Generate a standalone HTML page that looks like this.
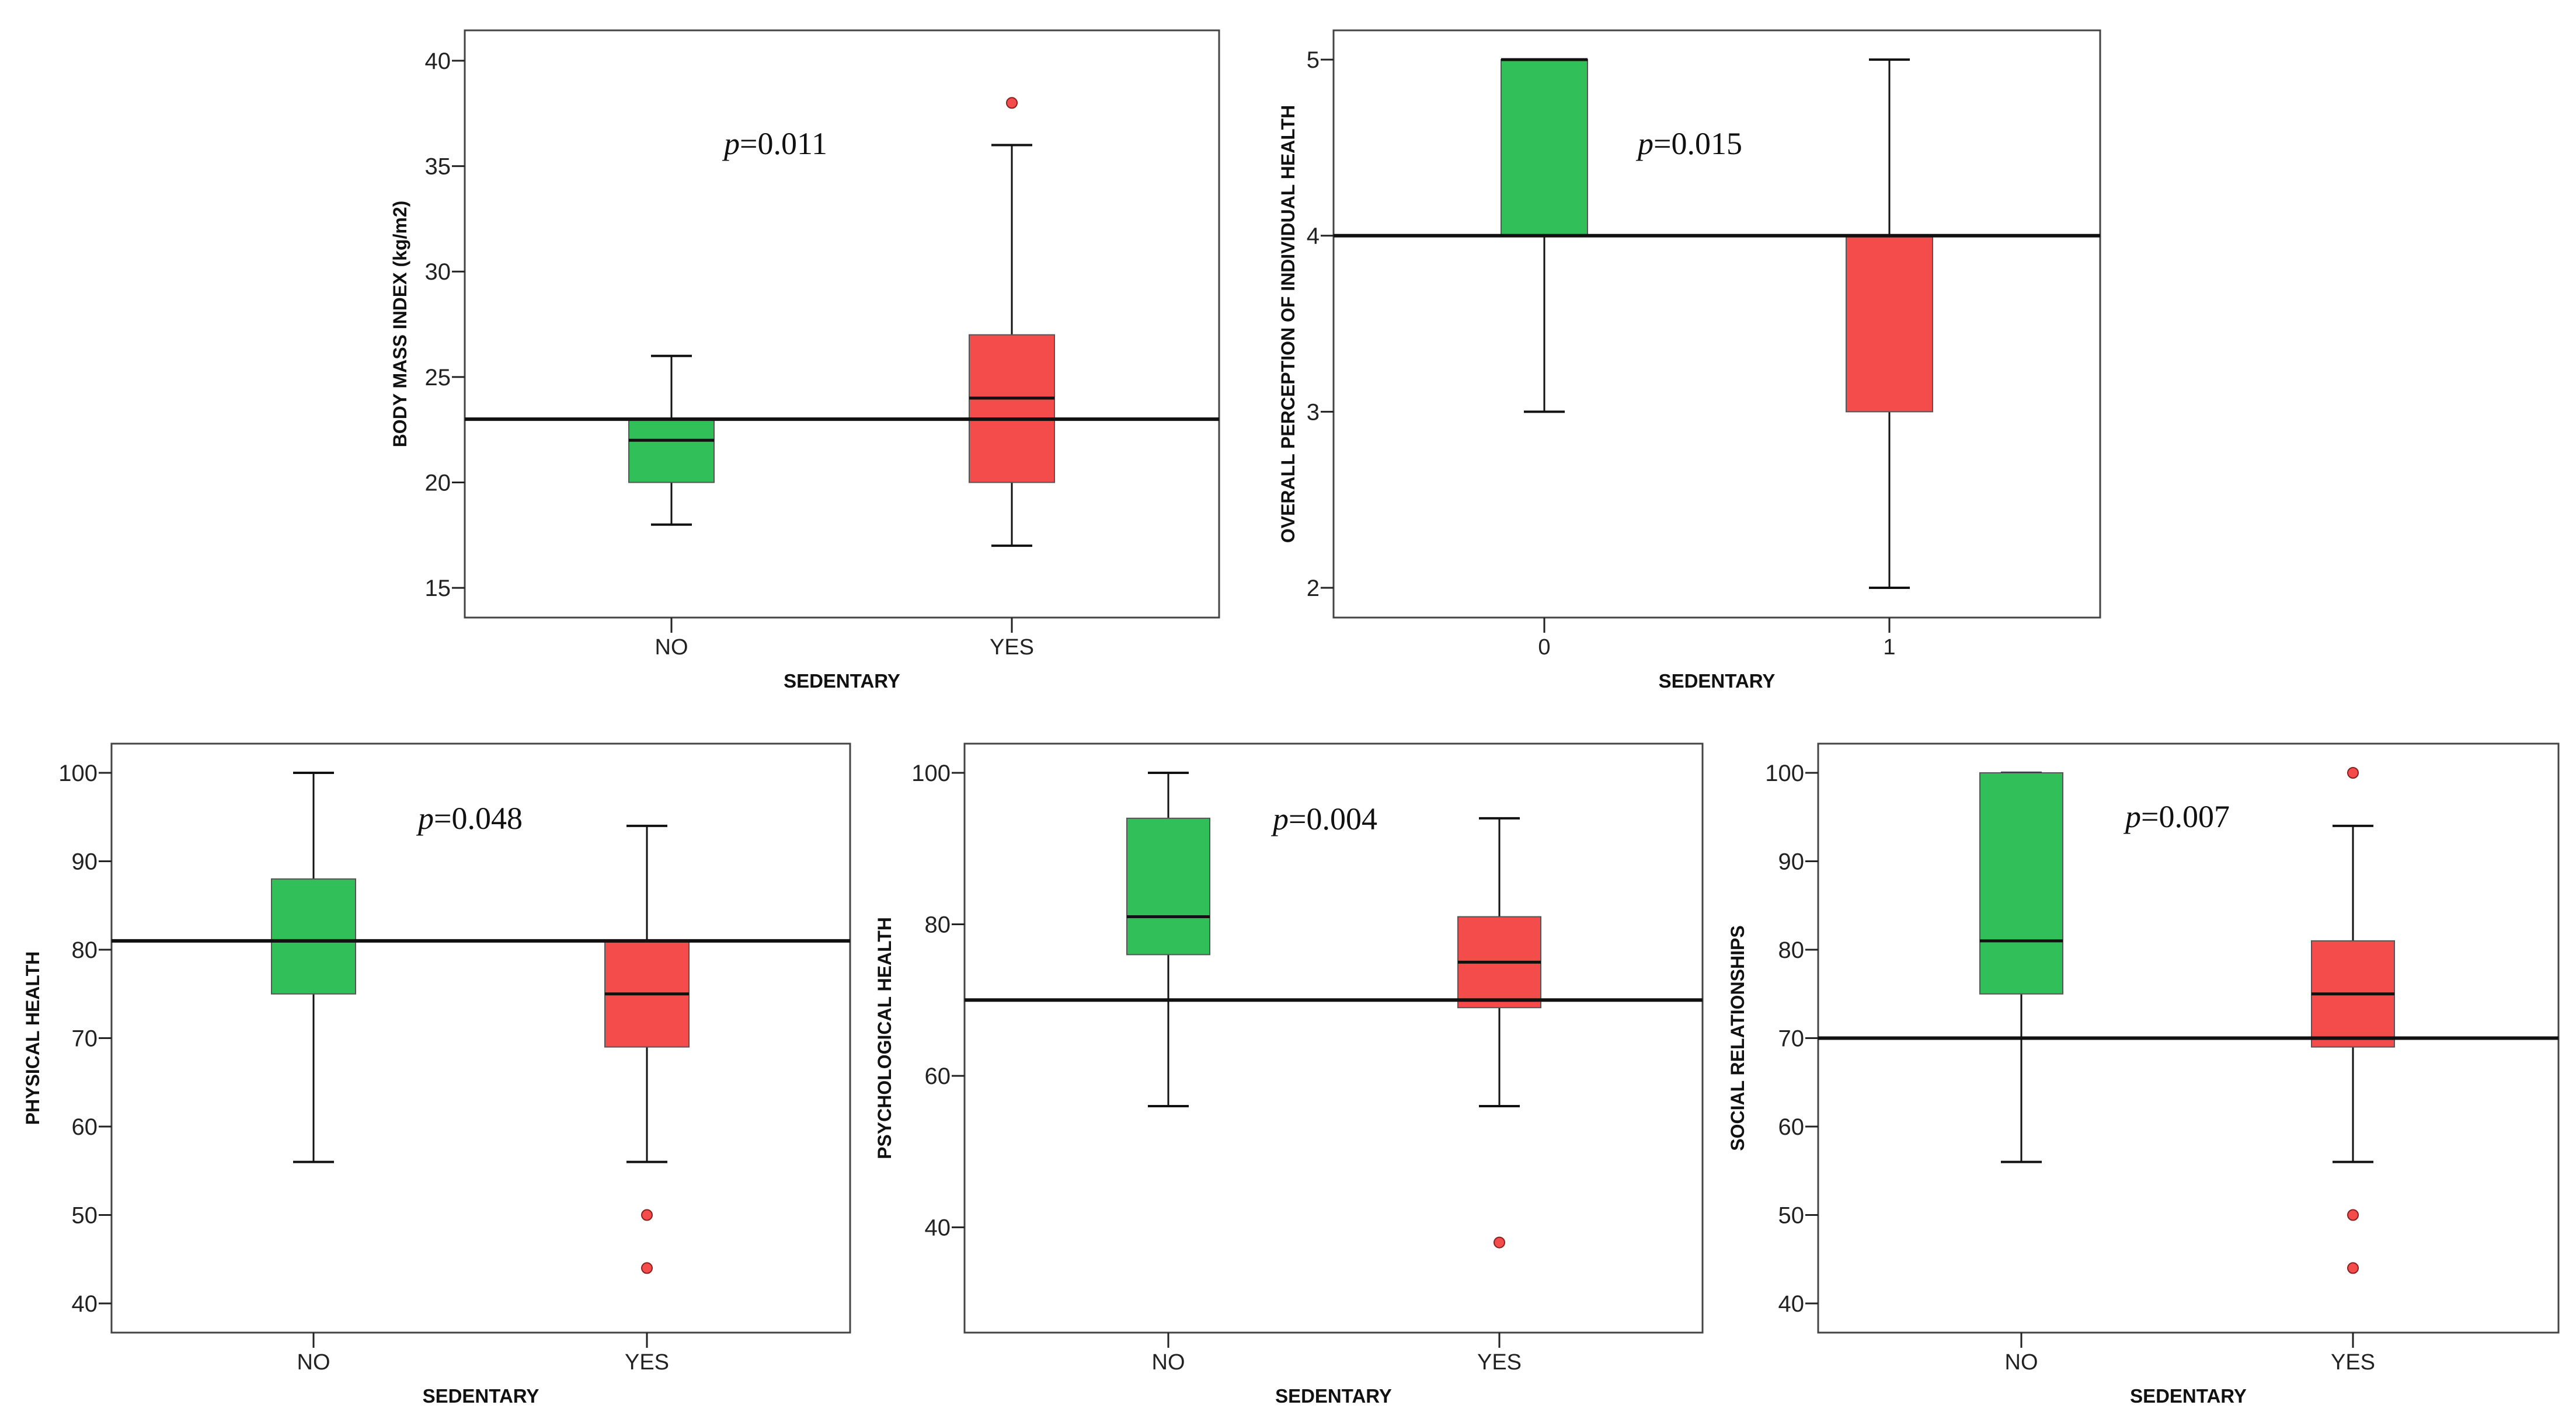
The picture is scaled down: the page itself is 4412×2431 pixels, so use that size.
<!DOCTYPE html>
<html><head><meta charset="utf-8"><style>
html,body{margin:0;padding:0;background:#fff;}
svg{display:block;}
</style></head><body>
<svg id="c" xmlns="http://www.w3.org/2000/svg" width="4412" height="2431" viewBox="0 0 4412 2431"></svg>
<script>
const panelIds = ["bmi","overall","physical","psychological","social"];
const yTitles = ["BODY MASS INDEX (kg/m2)","OVERALL PERCEPTION OF INDIVIDUAL HEALTH","PHYSICAL HEALTH","PSYCHOLOGICAL HEALTH","SOCIAL RELATIONSHIPS"];
const catLabels = [["NO","YES"],["0","1"],["NO","YES"],["NO","YES"],["NO","YES"]];
const pValues = ["0.011","0.015","0.048","0.004","0.007"];
const whiskerLow = [[18,17],[3,2],[56,56],[56,56],[56,56]];
const q1 = [[20,20],[4,3],[75,69],[76,69],[75,69]];
const median = [[22,24],[5,4],[81,75],[81,75],[81,75]];
const q3 = [[23,27],[5,4],[88,81],[94,81],[100,81]];
const whiskerHigh = [[26,36],[5,5],[100,94],[100,94],[100,94]];
const outliers = [[[],[38]],[[],[]],[[],[50,44]],[[],[38]],[[],[100,50,44]]];
const meanLine = [23,4,81,70,70];
const yTicks = [[15,20,25,30,35,40],[2,3,4,5],[40,50,60,70,80,90,100],[40,60,80,100],[40,50,60,70,80,90,100]];
const yDomain = [[13.59,41.44],[1.831,5.166],[36.7,103.3],[26.1,103.85],[36.7,103.3]];

// layout (pixel geometry)
const frames = [
 {x0:796,x1:2088,y0:52,y1:1058,cx:[1150,1733],tx:685,px:1240,py:246,hw:73},
 {x0:2284,x1:3597,y0:52,y1:1058,cx:[2645,3236],tx:2206,px:2805,py:246,hw:74},
 {x0:191,x1:1456,y0:1274,y1:2283,cx:[537,1108],tx:56,px:716,py:1402,hw:72},
 {x0:1652,x1:2916,y0:1274,y1:2283,cx:[2001,2568],tx:1515,px:2180,py:1403,hw:71},
 {x0:3114,x1:4382,y0:1274,y1:2283,cx:[3462,4030],tx:2976,px:3640,py:1399,hw:71}
];
const fills = ["#31bf5a","#f44c4a"];
const NS = "http://www.w3.org/2000/svg";
const svg = document.getElementById("c");
function mk(tag, attrs, parent){
  const e = document.createElementNS(NS, tag);
  for (const k in attrs) e.setAttribute(k, attrs[k]);
  (parent||svg).appendChild(e);
  return e;
}
const sans = '"Liberation Sans Narrow","Liberation Sans",sans-serif';
panelIds.forEach((id, i) => {
  const f = frames[i];
  const [d0, d1] = yDomain[i];
  const y = v => f.y1 - (v - d0) / (d1 - d0) * (f.y1 - f.y0);
  const g = mk("g", {});
  
  
  const fr = mk("rect", {x:f.x0, y:f.y0, width:f.x1-f.x0, height:f.y1-f.y0, fill:"#fff", stroke:"#444", "stroke-width":3}, g);
  
  
  yTicks[i].forEach(t => {
    const ty = y(t);
    const tl = mk("line", {x1:f.x0-22, x2:f.x0, y1:ty, y2:ty, stroke:"#222", "stroke-width":3}, g);
    
    
    const tt = mk("text", {x:f.x0-24, y:ty+14, "text-anchor":"end", "font-family":sans, "font-size":40, fill:"#222"}, g);
    tt.textContent = t;
    
    
  });
  const cy = (f.y0 + f.y1) / 2;
  const yt = mk("text", {x:f.tx, y:cy, transform:`rotate(-90 ${f.tx} ${cy})`, "text-anchor":"middle", "dominant-baseline":"central", "font-family":sans, "font-weight":"bold", "font-size":32, fill:"#111"}, g);
  yt.textContent = yTitles[i];
  
  
  f.cx.forEach((cx, j) => {
    const xl = mk("line", {x1:cx, x2:cx, y1:f.y1, y2:f.y1+26, stroke:"#222", "stroke-width":3}, g);
    
    
    const xt = mk("text", {x:cx, y:f.y1+63, "text-anchor":"middle", "font-family":sans, "font-size":38, fill:"#222"}, g);
    xt.textContent = catLabels[i][j];
    
    
  });
  const xa = mk("text", {x:(f.x0+f.x1)/2, y:f.y1+120, "text-anchor":"middle", "font-family":sans, "font-weight":"bold", "font-size":33, fill:"#111"}, g);
  xa.textContent = "SEDENTARY";
  
  
  f.cx.forEach((cx, j) => {
    const bg = mk("g", {}, g);
    
    
    const wl = whiskerLow[i][j], wh = whiskerHigh[i][j];
    mk("line", {x1:cx, x2:cx, y1:y(wl), y2:y(q1[i][j]), stroke:"#111", "stroke-width":3}, bg);
    mk("line", {x1:cx, x2:cx, y1:y(wh), y2:y(q3[i][j]), stroke:"#111", "stroke-width":3}, bg);
    mk("line", {x1:cx-35, x2:cx+35, y1:y(wl), y2:y(wl), stroke:"#111", "stroke-width":4}, bg);
    mk("line", {x1:cx-35, x2:cx+35, y1:y(wh), y2:y(wh), stroke:"#111", "stroke-width":4}, bg);
    const top = y(q3[i][j]), bot = y(q1[i][j]);
    mk("rect", {x:cx-f.hw, y:top, width:2*f.hw, height:Math.max(bot-top,0), fill:fills[j], stroke:"#555", "stroke-width":2}, bg);
    const m = y(median[i][j]);
    mk("line", {x1:cx-f.hw, x2:cx+f.hw, y1:m, y2:m, stroke:"#111", "stroke-width":5}, bg);
    outliers[i][j].forEach(o => {
      const c = mk("circle", {cx:cx, cy:y(o), r:9, fill:fills[1], stroke:"#8a2020", "stroke-width":2}, bg);
      
      
    });
  });
  const ml = mk("line", {x1:f.x0, x2:f.x1, y1:y(meanLine[i]), y2:y(meanLine[i]), stroke:"#111", "stroke-width":6}, g);
  
  
  const pt = mk("text", {x:f.px, y:f.py+18, "font-family":'"Liberation Serif",serif', "font-size":54, fill:"#111"}, g);
  
  
  const pi = mk("tspan", {"font-style":"italic"}, pt);
  pi.textContent = "p";
  const pr = mk("tspan", {}, pt);
  pr.textContent = "=" + pValues[i];
});
</script>
</body></html>
